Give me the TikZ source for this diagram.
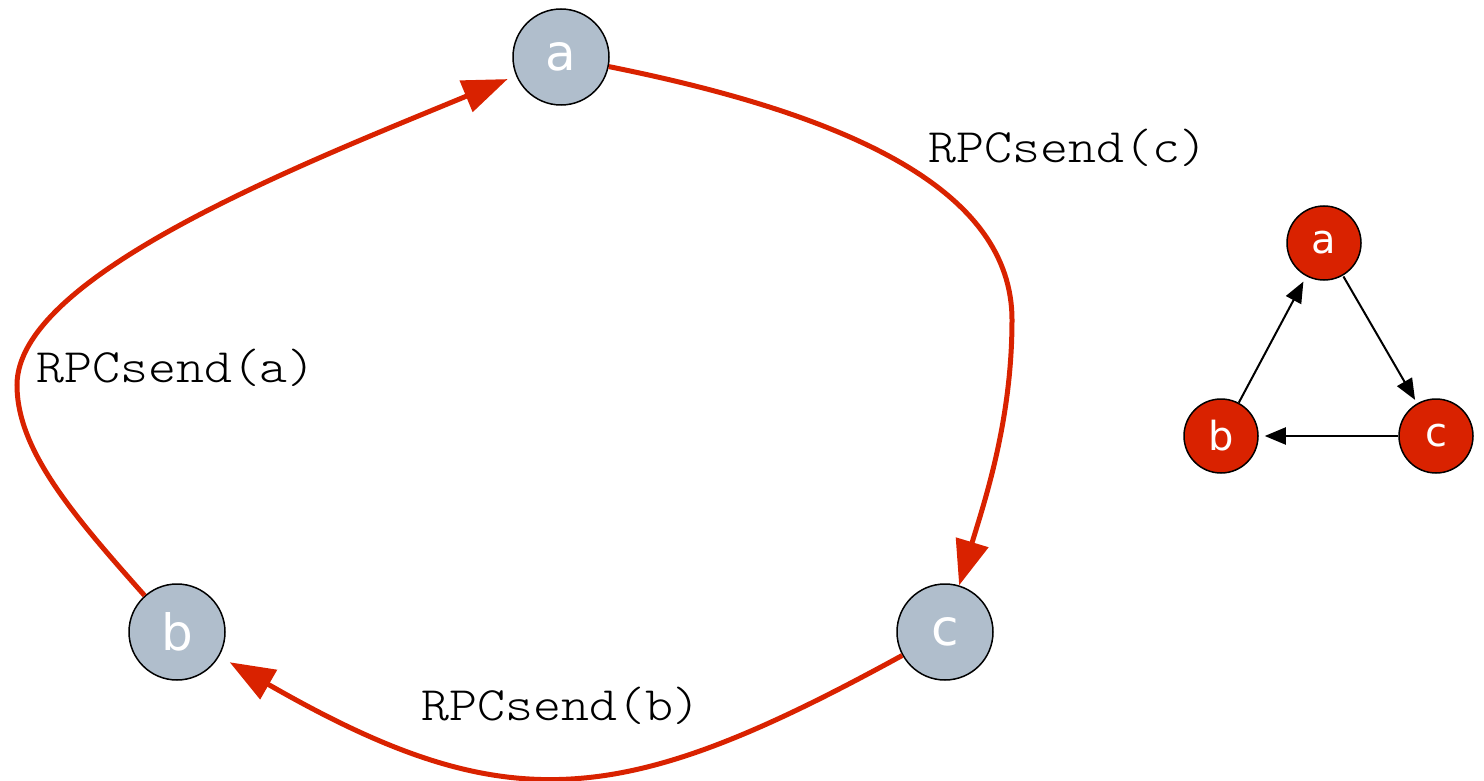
\documentclass[tikz,border=0pt]{standalone}
\usepackage{fontspec}
\setmainfont{DejaVu Sans}
\newfontfamily\codefont{Latin Modern Mono Light}
\usetikzlibrary{arrows.meta}
\definecolor{redc}{RGB}{217,34,0}
\definecolor{nodeg}{RGB}{176,190,204}
\tikzset{
  bignode/.style={circle,draw=black,line width=1.5pt,fill=nodeg,minimum size=96pt,inner sep=0pt,text=white,font=\fontsize{50}{50}\selectfont},
  smallnode/.style={circle,draw=black,line width=1.5pt,fill=redc,minimum size=74pt,inner sep=0pt,text=white,font=\fontsize{40}{40}\selectfont},
  bigedge/.style={draw=redc,line width=5pt,-{Triangle[length=45pt,width=33pt]}},
  smalledge/.style={draw=black,line width=2pt,-{Triangle[length=21pt,width=17pt]}},
  lbl/.style={font=\codefont\fontsize{48}{48}\selectfont,text=black,inner sep=0pt,xscale=1.11}
}
\begin{document}
\begin{tikzpicture}[x=1pt,y=-1pt]
\useasboundingbox (0,0) rectangle (1484,781);
% big nodes
\node[bignode] (a) at (561,57) {a};
\node[bignode] (b) at (177,632) {b};
\node[bignode] (c) at (945,632) {c};
% small nodes
\node[smallnode] (sa) at (1324,243) {a};
\node[smallnode] (sb) at (1221,436) {b};
\node[smallnode] (sc) at (1436,436) {c};
% big edges
\coordinate (m1) at (1012,320);
\coordinate (m3) at (17,385);
\draw[bigedge] (a) .. controls (850,115) and (1012,190) .. (m1) .. controls (1012,420) and (985,500) .. (c);
\draw[bigedge,shorten >=12pt] (c) .. controls (622,809) and (508,822) .. (b);
\draw[bigedge,shorten >=9pt] (b) .. controls (73,515) and (17,450) .. (m3) .. controls (17,275) and (305,163) .. (a);
% labels
\node[lbl,anchor=west] (lc) at (928,148) {RPCsend(c)};
\node[lbl,anchor=west] (la) at (36,368) {RPCsend(a)};
\node[lbl,anchor=west] (lb) at (421,706) {RPCsend(b)};
% small edges
\draw[smalledge,shorten <=1pt,shorten >=4pt] (sa) -- (sc);
\draw[smalledge,shorten >=6pt] (sc) -- (sb);
\draw[smalledge,shorten >=6pt] (sb) -- (sa);
\end{tikzpicture}
\end{document}
